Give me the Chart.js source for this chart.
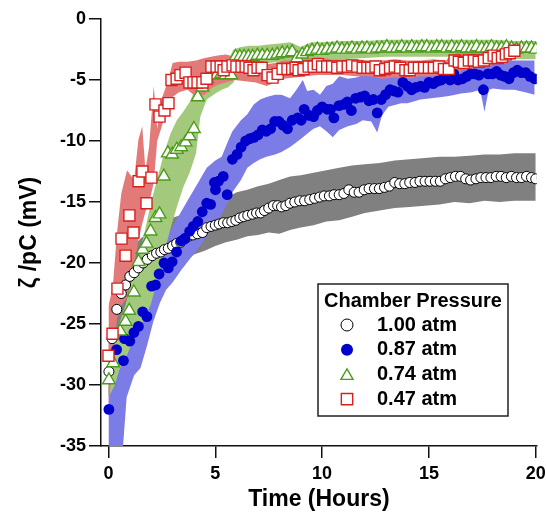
<!DOCTYPE html>
<html>
<head>
<meta charset="utf-8">
<script src="https://cdn.jsdelivr.net/npm/chart.js@4.4.0/dist/chart.umd.min.js"></script>
<style>
  html, body { margin: 0; padding: 0; background: #fff; }
  #wrap { width: 546px; height: 515px; }
</style>
</head>
<body>
<div id="wrap"><canvas id="zeta"></canvas></div>
<script>
// [hours, zeta mV]
var atm100 = [[0.02,-28.9],[0.17,-26.2],[0.39,-23.8],[0.6,-22.5],[0.8,-21.8],[1.0,-21.1],[1.2,-20.8],[1.4,-20.4],[1.62,-20.0],[1.82,-19.7],
  [2.05,-19.4],[2.25,-19.2],[2.45,-19.1],[2.62,-18.9],[2.8,-18.8],[3.0,-18.6],[3.19,-18.4],[3.38,-18.3],[3.57,-18.0],[3.76,-17.8],
  [3.95,-17.7],[4.16,-17.6],[4.4,-17.5],[4.6,-17.1],[4.8,-17.0],[5.0,-16.9],[5.18,-16.8],[5.38,-16.7],[5.58,-16.7],[5.77,-16.6],
  [5.96,-16.5],[6.15,-16.3],[6.33,-16.2],[6.52,-16.1],[6.74,-16.0],[6.93,-15.9],[7.12,-15.9],[7.3,-15.7],[7.5,-15.5],[7.72,-15.3],
  [7.92,-15.3],[8.1,-15.4],[8.3,-15.3],[8.5,-15.1],[8.72,-15.0],[8.95,-14.9],[9.18,-14.9],[9.42,-14.8],[9.65,-14.7],[9.88,-14.6],
  [10.1,-14.5],[10.34,-14.5],[10.56,-14.4],[10.8,-14.4],[11.02,-14.3],[11.25,-14.0],[11.5,-14.2],[11.73,-14.2],[11.97,-14.0],[12.2,-13.9],
  [12.45,-13.9],[12.68,-13.9],[12.92,-13.8],[13.15,-13.7],[13.4,-13.4],[13.63,-13.5],[13.87,-13.5],[14.1,-13.4],[14.35,-13.4],[14.58,-13.3],
  [14.82,-13.3],[15.05,-13.3],[15.3,-13.3],[15.53,-13.3],[15.77,-13.1],[16.0,-13.0],[16.24,-12.9],[16.48,-12.9],[16.72,-13.1],[16.95,-13.2],
  [17.2,-13.1],[17.43,-13.0],[17.67,-13.0],[17.9,-13.0],[18.15,-12.9],[18.38,-12.9],[18.62,-13.0],[18.86,-12.9],[19.1,-13.0],[19.33,-13.0],
  [19.57,-12.9],[19.8,-13.0],[20.0,-13.1]];

var atm087 = [[0.02,-32.0],[0.38,-27.1],[0.7,-28.0],[0.75,-26.2],[1.0,-26.4],[1.19,-25.7],[1.4,-25.2],[1.6,-24.0],[1.8,-24.4],[2.02,-21.9],
  [2.2,-21.8],[2.37,-20.9],[2.6,-20.0],[2.8,-20.4],[2.98,-19.9],[3.19,-19.1],[3.4,-18.2],[3.58,-18.0],[3.8,-17.4],[3.97,-17.0],
  [4.18,-16.6],[4.39,-15.8],[4.6,-15.1],[4.78,-15.2],[4.96,-13.4],[5.01,-14.0],[5.15,-13.3],[5.37,-12.9],[5.56,-14.4],[5.8,-11.5],
  [6.02,-11.1],[6.21,-10.5],[6.42,-10.0],[6.62,-9.8],[6.81,-9.7],[7.0,-9.5],[7.2,-9.1],[7.39,-9.2],[7.59,-9.0],[7.78,-8.4],
  [7.98,-8.4],[8.16,-8.7],[8.38,-9.0],[8.6,-8.3],[8.86,-8.1],[9.02,-8.3],[9.16,-7.4],[9.4,-7.9],[9.6,-8.0],[9.78,-7.5],
  [10.0,-7.2],[10.24,-7.4],[10.4,-7.4],[10.55,-8.1],[10.79,-7.1],[11.02,-7.0],[11.18,-6.8],[11.37,-7.5],[11.57,-6.5],[11.8,-6.4],
  [11.99,-6.3],[12.19,-6.7],[12.4,-6.6],[12.58,-7.7],[12.77,-6.6],[12.97,-6.2],[13.18,-5.8],[13.36,-5.9],[13.55,-6.0],[13.78,-5.2],
  [13.99,-5.5],[14.19,-5.8],[14.38,-5.6],[14.61,-5.5],[14.8,-5.6],[15.0,-5.2],[15.2,-5.3],[15.39,-5.1],[15.58,-5.0],[15.78,-4.8],
  [15.99,-5.0],[16.17,-4.5],[16.36,-5.0],[16.57,-4.9],[16.77,-4.7],[16.96,-4.5],[17.14,-4.5],[17.34,-4.6],[17.55,-5.8],[17.77,-4.5],
  [17.97,-4.5],[18.17,-4.3],[18.36,-4.6],[18.55,-4.7],[18.75,-4.9],[18.96,-4.4],[19.14,-4.2],[19.33,-4.4],[19.53,-4.4],[19.73,-4.7],
  [19.95,-4.9]];

var atm074 = [[0.02,-29.6],[0.22,-28.2],[0.55,-25.6],[0.8,-24.8],[0.97,-23.9],[1.19,-22.4],[1.41,-19.9],[1.6,-18.9],[1.78,-18.4],[1.97,-17.4],
  [2.2,-16.3],[2.39,-16.0],[2.59,-12.9],[2.78,-11.0],[2.98,-11.1],[3.2,-10.7],[3.4,-10.5],[3.61,-10.1],[3.8,-9.6],[4.0,-9.0],
  [4.18,-6.4],[4.4,-5.6],[4.63,-4.9],[4.86,-4.6],[5.06,-4.6],[5.28,-4.5],[5.48,-4.6],[5.74,-4.6],[5.95,-3.1],[6.15,-3.1],
  [6.35,-3.1],[6.55,-3.1],[6.75,-3.1],[6.97,-3.0],[7.2,-3.0],[7.43,-3.0],[7.67,-3.0],[7.9,-2.9],[8.13,-2.8],[8.37,-2.8],
  [8.6,-2.7],[8.83,-3.2],[9.07,-2.9],[9.3,-2.7],[9.53,-2.6],[9.77,-2.5],[10.0,-2.6],[10.23,-2.5],[10.47,-2.5],[10.7,-2.4],
  [10.93,-2.5],[11.17,-2.5],[11.4,-2.4],[11.63,-2.5],[11.87,-2.4],[12.1,-2.4],[12.33,-2.5],[12.57,-2.4],[12.8,-2.4],[13.03,-2.3],
  [13.27,-2.4],[13.5,-2.4],[13.73,-2.3],[13.97,-2.4],[14.2,-2.3],[14.43,-2.4],[14.67,-2.3],[14.9,-2.3],[15.13,-2.4],[15.37,-2.3],
  [15.6,-2.3],[15.83,-2.4],[16.07,-2.3],[16.3,-2.4],[16.53,-2.3],[16.77,-2.4],[17.0,-2.4],[17.23,-2.3],[17.47,-2.4],[17.7,-2.4],
  [17.93,-2.3],[18.17,-2.4],[18.4,-2.4],[18.63,-2.3],[18.87,-2.4],[19.1,-2.5],[19.33,-2.4],[19.57,-2.4],[19.8,-2.4],[20.0,-2.5]];

var atm047 = [[0.0,-27.6],[0.19,-25.8],[0.42,-22.1],[0.61,-18.0],[0.8,-19.4],[0.98,-16.1],[1.17,-17.5],[1.41,-13.3],[1.59,-12.5],[1.78,-15.1],
  [2.01,-13.0],[2.2,-7.0],[2.39,-8.0],[2.62,-7.5],[2.81,-6.9],[2.95,-5.0],[3.19,-4.9],[3.37,-4.6],[3.61,-4.4],[3.79,-5.2],
  [3.98,-5.2],[4.17,-5.2],[4.4,-5.2],[4.59,-4.9],[4.82,-3.9],[5.06,-3.9],[5.25,-3.9],[5.39,-4.2],[5.57,-3.9],[5.81,-3.8],
  [5.99,-3.9],[6.23,-3.9],[6.42,-3.9],[6.6,-4.0],[6.79,-4.2],[6.98,-4.0],[7.17,-4.0],[7.45,-4.6],[7.68,-4.8],[7.92,-4.5],
  [8.15,-4.1],[8.38,-4.1],[8.6,-4.1],[8.76,-4.0],[8.9,-4.2],[9.13,-4.1],[9.37,-3.9],[9.6,-3.9],[9.8,-3.7],[10.0,-3.9],
  [10.24,-3.9],[10.47,-3.9],[10.71,-4.0],[10.95,-3.9],[11.2,-3.9],[11.4,-3.8],[11.65,-3.9],[11.9,-4.0],[12.12,-4.0],[12.3,-4.0],
  [12.5,-3.9],[12.7,-4.2],[12.95,-4.1],[13.18,-4.0],[13.4,-3.9],[13.65,-4.0],[13.9,-4.2],[14.1,-4.2],[14.3,-4.0],[14.53,-4.0],
  [14.77,-4.0],[15.0,-4.0],[15.23,-4.0],[15.47,-3.9],[15.7,-4.1],[15.93,-4.1],[16.2,-3.4],[16.4,-3.5],[16.63,-3.6],[16.87,-3.4],
  [17.1,-3.4],[17.33,-3.5],[17.57,-3.4],[17.8,-3.2],[18.03,-3.0],[18.22,-3.2],[18.42,-3.1],[18.6,-2.9],[18.78,-2.8],[19.0,-2.6]];

// error bands: [hours, upper, lower]
var band100 = [[0,-26.5,-31],[0.3,-23.5,-28],[0.6,-20.8,-24.8],[1.0,-19.0,-23.2],[1.5,-18.0,-22.2],[2.0,-17.4,-21.6],[2.5,-16.9,-21.0],
  [3.0,-16.3,-20.5],[3.5,-16.0,-20.0],[4.0,-15.5,-19.3],[4.5,-15.2,-19.0],[5.0,-14.9,-18.6],[5.5,-14.7,-18.3],[6.0,-14.2,-18.1],
  [6.5,-14.0,-17.8],[7.0,-13.7,-17.7],[7.5,-13.5,-17.5],[8.0,-13.2,-17.6],[8.5,-12.9,-17.3],[9.0,-12.8,-17.1],[9.6,-12.6,-16.9],
  [10.2,-12.4,-16.6],[10.8,-12.2,-16.5],[11.4,-12.0,-16.2],[12.0,-11.9,-15.9],[12.7,-11.8,-15.7],[13.4,-11.6,-15.5],[14.1,-11.5,-15.4],
  [14.8,-11.4,-15.3],[15.5,-11.3,-15.2],[16.2,-11.3,-15.0],[16.9,-11.2,-15.1],[17.6,-11.1,-14.9],[18.3,-11.1,-15.0],[19.0,-11.0,-14.9],
  [20.0,-11.0,-14.9]];

var band087 = [[0,-29,-37],[0.3,-26.3,-37],[0.6,-24.5,-37],[0.85,-23.8,-31.0],[1.2,-23.0,-29.2],[1.5,-22.4,-28.6],[1.8,-21.5,-26.8],
  [2.1,-20.4,-24.8],[2.4,-19.2,-23.3],[2.7,-18.0,-22.2],[3.0,-17.0,-21.6],[3.4,-15.8,-20.6],[3.8,-14.6,-19.7],[4.2,-13.4,-18.8],
  [4.6,-12.2,-17.8],[5.0,-11.6,-16.8],[5.3,-11.3,-16.0],[5.55,-10.2,-15.2],[5.8,-9.2,-14.2],[6.2,-8.3,-13.2],[6.5,-7.8,-12.2],
  [6.8,-7.0,-11.8],[7.1,-6.6,-11.5],[7.4,-6.4,-11.3],[7.8,-6.2,-11.1],[8.1,-6.2,-10.9],[8.5,-6.5,-10.5],[8.8,-5.8,-10.1],
  [9.1,-5.0,-9.7],[9.3,-5.9,-9.4],[9.6,-5.8,-9.0],[9.9,-6.2,-8.8],[10.2,-5.5,-9.2],[10.5,-5.3,-9.7],[10.8,-4.7,-9.1],
  [11.2,-4.9,-8.8],[11.6,-4.8,-8.6],[11.9,-4.6,-8.3],[12.3,-4.5,-8.4],[12.58,-4.3,-9.3],[12.8,-4.6,-7.9],[13.1,-4.7,-7.2],
  [13.7,-4.2,-6.9],[14.0,-4.0,-6.9],[14.6,-3.9,-6.6],[15.1,-3.6,-6.5],[15.6,-3.5,-6.4],[16.0,-3.5,-6.3],[16.5,-3.5,-6.1],
  [17.0,-3.5,-6.0],[17.4,-3.5,-5.8],[17.6,-3.5,-7.6],[17.8,-3.5,-5.8],[18.0,-3.4,-5.7],[18.5,-3.4,-5.8],[19.0,-3.4,-5.8],
  [19.5,-3.4,-6.0],[19.95,-3.4,-6.2]];

var band074 = [[0,-27.0,-31.0],[0.3,-26.0,-30.0],[0.5,-25.0,-28.8],[0.8,-23.4,-27.8],[1.1,-21.3,-26.6],[1.4,-19.6,-25.5],[1.7,-17.4,-24.5],
  [2.0,-15.0,-23.3],[2.3,-13.0,-21.3],[2.6,-11.0,-19.2],[2.9,-9.4,-17.2],[3.2,-8.3,-15.4],[3.5,-7.6,-13.8],[3.8,-6.8,-12.6],
  [4.1,-5.6,-11.0],[4.3,-5.0,-8.0],[4.6,-4.1,-6.6],[5.0,-3.8,-6.1],[5.3,-3.6,-5.8],[5.6,-3.4,-5.6],[5.85,-2.5,-5.2],[6.2,-2.3,-3.9],
  [6.6,-2.2,-3.8],[7.0,-2.2,-3.7],[7.5,-2.1,-3.6],[8.0,-2.0,-3.5],[8.5,-1.9,-3.6],[9.0,-2.3,-3.8],[9.5,-1.9,-3.3],[10,-1.9,-3.3],
  [11,-1.8,-3.3],[12,-1.8,-3.2],[13,-1.7,-3.1],[14,-1.7,-3.1],[15,-1.7,-3.1],[16,-1.7,-3.1],[17,-1.7,-3.2],[18,-1.7,-3.2],
  [19,-1.8,-3.3],[20,-1.8,-3.3]];

var band047 = [[0,-23.5,-32],[0.2,-22.0,-28],[0.4,-17.5,-24.5],[0.6,-14.3,-23.5],[0.87,-12.4,-22.8],[1.2,-13.2,-20.3],[1.4,-9.9,-18.1],
  [1.58,-8.8,-16.8],[1.73,-12.4,-15.8],[1.9,-10.5,-15.1],[2.12,-5.5,-13.4],[2.28,-9.0,-10.0],[2.5,-6.5,-8.8],[2.8,-5.0,-7.0],
  [3.0,-3.6,-6.4],[3.3,-3.5,-6.0],[3.7,-3.5,-5.8],[4.1,-3.4,-6.4],[4.5,-3.2,-6.2],[4.8,-3.1,-5.7],[5.1,-3.0,-5.4],[5.5,-2.9,-5.2],
  [5.9,-3.1,-5.0],[6.4,-3.4,-5.1],[6.9,-3.5,-5.2],[7.4,-3.7,-5.5],[7.8,-3.6,-5.2],[8.2,-3.4,-4.9],[8.7,-3.4,-4.8],[9.2,-3.3,-4.7],
  [9.8,-3.1,-4.6],[10.4,-3.3,-4.6],[11.0,-3.3,-4.6],[11.6,-3.3,-4.7],[12.2,-3.4,-4.7],[12.8,-3.4,-4.9],[13.4,-3.3,-4.8],[14.0,-3.4,-4.9],
  [14.6,-3.4,-4.7],[15.2,-3.3,-4.7],[15.8,-3.4,-4.8],[16.0,-3.0,-4.8],[16.3,-2.8,-5.6],[16.5,-2.8,-4.2],[17.0,-2.7,-4.1],[17.5,-2.6,-4.0],
  [18.0,-2.3,-3.7],[18.5,-2.0,-3.4],[19.0,-1.9,-3.2]];

var seriesLabels = ['1.00 atm', '0.87 atm', '0.74 atm', '0.47 atm'];
var xTicks = [0, 5, 10, 15, 20];
var yTicks = [0, -5, -10, -15, -20, -25, -30, -35];

var FONT = 'Liberation Sans, Arial, Helvetica, sans-serif';

function pts(arr) { return arr.map(function (p) { return { x: p[0], y: p[1] }; }); }

function bandPair(arr, color, ord) {
  var common = { showLine: true, pointRadius: 0, borderWidth: 0, borderColor: 'rgba(0,0,0,0)', tension: 0, order: ord, isBand: true };
  return [
    Object.assign({ label: 'hi', data: arr.map(function (b) { return { x: b[0], y: b[1] }; }), backgroundColor: color, fill: '+1' }, common),
    Object.assign({ label: 'lo', data: arr.map(function (b) { return { x: b[0], y: b[2] }; }), backgroundColor: color, fill: false }, common)
  ];
}

function markers(label, data, style, r, fillC, lineC, bw, ord) {
  return {
    label: label, data: pts(data), showLine: false, pointStyle: style, pointRadius: r, pointHoverRadius: r,
    pointBackgroundColor: fillC, pointBorderColor: lineC, pointBorderWidth: bw,
    backgroundColor: fillC, borderColor: lineC, order: ord
  };
}

var datasets = [].concat(
  bandPair(band100, 'rgb(128,128,128)', 10),
  bandPair(band087, 'rgb(124,124,230)', 9),
  bandPair(band074, 'rgb(163,201,125)', 8),
  bandPair(band047, 'rgb(226,122,122)', 7),
  [
    markers(seriesLabels[0], atm100, 'circle', 5, '#ffffff', '#000000', 1, 4),
    markers(seriesLabels[1], atm087, 'circle', 5.4, '#0000cc', '#0000cc', 0, 3),
    markers(seriesLabels[2], atm074, 'triangle', 7.3, '#ffffff', '#4c9c1c', 1.4, 2),
    markers(seriesLabels[3], atm047, 'rect', 7.8, '#ffffff', '#d8201e', 1.4, 1)
  ]
);

function drawMark(ctx, style, x, y, r, fillC, lineC, bw) {
  ctx.beginPath();
  if (style === 'circle') {
    ctx.arc(x, y, r, 0, Math.PI * 2);
  } else if (style === 'triangle') {
    for (var i = 0; i < 3; i++) {
      var a = i * 2 * Math.PI / 3;
      ctx[i ? 'lineTo' : 'moveTo'](x + Math.sin(a) * r, y - Math.cos(a) * r);
    }
    ctx.closePath();
  } else {
    var s = r * Math.SQRT1_2;
    ctx.rect(x - s, y - s, 2 * s, 2 * s);
  }
  ctx.fillStyle = fillC;
  ctx.fill();
  if (bw > 0) { ctx.lineWidth = bw; ctx.strokeStyle = lineC; ctx.stroke(); }
}

// boxed legend inside the plot, lower right
var boxLegend = {
  id: 'boxLegend',
  afterDraw: function (chart) {
    var ctx = chart.ctx, area = chart.chartArea;
    var left = area.left + 217, top = area.top + 265, w = 190, h = 132;
    ctx.save();
    ctx.fillStyle = '#fff';
    ctx.fillRect(left, top, w, h);
    ctx.lineWidth = 1.5;
    ctx.strokeStyle = '#222';
    ctx.strokeRect(left, top, w, h);
    ctx.fillStyle = '#000';
    ctx.font = 'bold 20px ' + FONT;
    ctx.textAlign = 'center';
    ctx.textBaseline = 'middle';
    ctx.fillText('Chamber Pressure', left + w / 2, top + 17);
    ctx.textAlign = 'left';
    var marks = chart.data.datasets.filter(function (d) { return !d.isBand; });
    marks.forEach(function (d, i) {
      var cy = top + 41 + i * 24.7;
      var r = d.pointStyle === 'rect' ? 8 : (d.pointStyle === 'triangle' ? 7 : 6);
      drawMark(ctx, d.pointStyle, left + 29, cy + (d.pointStyle === 'triangle' ? 1.5 : 0), r,
        d.pointBackgroundColor, d.pointBorderColor, d.pointBorderWidth || 0);
      ctx.fillStyle = '#000';
      ctx.fillText(d.label, left + 59, cy);
    });
    ctx.restore();
  }
};

var tickFont = { family: FONT, size: 18, weight: 'bold' };
var titleFont = { family: FONT, size: 23, weight: 'bold' };

new Chart(document.getElementById('zeta'), {
  type: 'line',
  data: { datasets: datasets },
  options: {
    responsive: true,
    maintainAspectRatio: false,
    animation: false,
    layout: { padding: { left: 12, right: 9, top: 19, bottom: 0 } },
    plugins: { legend: { display: false }, tooltip: { enabled: false } },
    scales: {
      x: {
        type: 'linear',
        min: -0.35,
        max: 20.05,
        afterBuildTicks: function (s) { s.ticks = xTicks.map(function (v) { return { value: v }; }); },
        afterFit: function (s) { s.height = 69; s.paddingLeft = 0; s.paddingRight = 0; },
        ticks: { font: tickFont, color: '#000', padding: 5, maxRotation: 0 },
        grid: { drawOnChartArea: false, tickLength: 12, color: '#111', lineWidth: 1.5 },
        border: { color: '#111', width: 1.5 },
        title: { display: true, text: 'Time (Hours)', font: titleFont, color: '#000', padding: { top: 0, bottom: 2 } }
      },
      y: {
        type: 'linear',
        min: -35,
        max: 0,
        afterBuildTicks: function (s) { s.ticks = yTicks.map(function (v) { return { value: v }; }); },
        afterFit: function (s) { s.width = 89; },
        ticks: { font: tickFont, color: '#000', padding: 3 },
        grid: { drawOnChartArea: false, tickLength: 12, color: '#111', lineWidth: 1.5 },
        border: { color: '#111', width: 1.5 },
        title: { display: true, text: 'ζ /pC (mV)', font: titleFont, color: '#000', padding: { top: 4, bottom: 4 } }
      }
    }
  },
  plugins: [boxLegend]
});
</script>
</body>
</html>
